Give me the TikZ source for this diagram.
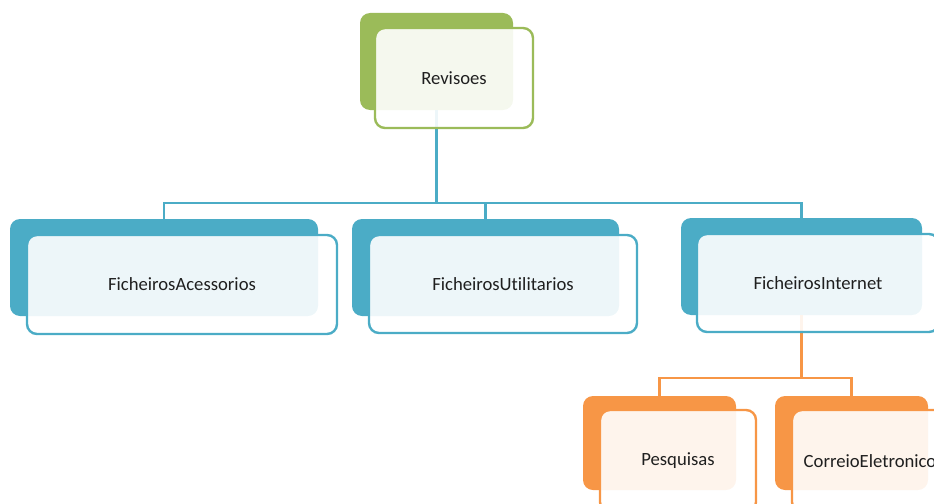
\documentclass[tikz,border=0pt]{standalone}
\usepackage{fontspec}
\setmainfont[Ligatures=NoCommon]{Carlito}
\definecolor{cgreen}{HTML}{9BBB59}
\definecolor{cblue}{HTML}{4BACC6}
\definecolor{corange}{HTML}{F79646}
\definecolor{ctext}{HTML}{1F1F1F}
\tikzset{
  backbox/.style={rectangle, rounded corners=7.5pt, fill=#1, draw=none, inner sep=0pt},
  frontbox/.style={rectangle, rounded corners=7.5pt, fill=white, fill opacity=0.9, text opacity=1, draw=#1, line width=1.8pt, inner sep=0pt, text=ctext, font=\fontsize{14}{17}\selectfont},
  conn/.style={draw=#1, line width=1.9pt}
}
\begin{document}
\begin{tikzpicture}[x=0.75pt, y=-0.75pt]
\useasboundingbox (0,0) rectangle (934,503);
\clip (0,0) rectangle (934,503);
% back boxes
\node[backbox=cgreen, minimum width=114.75pt, minimum height=72.75pt] (revB) at (436.5,61.5) {};
\node[backbox=cblue, minimum width=231pt, minimum height=72.75pt] (accB) at (164,267.5) {};
\node[backbox=cblue, minimum width=200.25pt, minimum height=72.75pt] (utiB) at (485.5,267.5) {};
\node[backbox=cblue, minimum width=180.75pt, minimum height=72.75pt] (intB) at (801.5,266.5) {};
\node[backbox=corange, minimum width=114.75pt, minimum height=70.5pt] (pesB) at (659.5,443) {};
\node[backbox=corange, minimum width=114.75pt, minimum height=70.5pt] (corB) at (851.5,443) {};
% connectors
\coordinate (j1) at (436.5,203);
\coordinate (j2) at (801.5,378);
\draw[conn=cblue] (revB.south) -- (j1) -| (accB.north);
\draw[conn=cblue] (j1) -| (utiB.north);
\draw[conn=cblue] (j1) -| (intB.north);
\draw[conn=corange] (intB.south) -- (j2) -| (pesB.north);
\draw[conn=corange] (j2) -| (corB.north);
% front boxes
\node[frontbox=cgreen, minimum width=118.5pt, minimum height=75pt] (revF) at (454,78) {Revisoes};
\node[frontbox=cblue, minimum width=232.5pt, minimum height=74.25pt] (accF) at (182,284.5) {FicheirosAcessorios};
\node[frontbox=cblue, minimum width=201pt, minimum height=73.5pt] (utiF) at (503,284) {FicheirosUtilitarios};
\node[frontbox=cblue, minimum width=181.5pt, minimum height=73.5pt] (intF) at (818,283) {FicheirosInternet};
\node[frontbox=corange, minimum width=117pt, minimum height=76.5pt] (pesF) at (678,461) {Pesquisas};
\node[frontbox=corange, minimum width=117pt, minimum height=76.5pt] (corF) at (870,461) {CorreioEletronico};
\end{tikzpicture}
\end{document}
